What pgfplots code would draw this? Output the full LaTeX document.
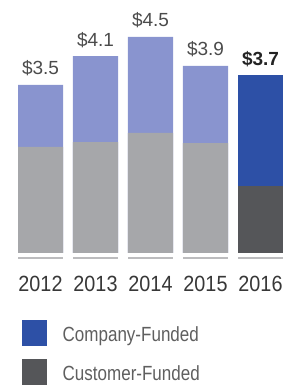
\documentclass[border=0pt]{standalone}
\usepackage{pgfplots}
\pgfplotsset{compat=1.18}
\usepackage{fontspec}
\setmainfont{Liberation Sans}
\newfontfamily\cond{Liberation Sans}[FakeStretch=0.9]
\newfontfamily\legf{Liberation Sans}[FakeStretch=0.83]
\definecolor{lblue}{RGB}{137,148,207}
\definecolor{lgray}{RGB}{166,167,170}
\definecolor{dblue}{RGB}{45,80,166}
\definecolor{dgray}{RGB}{85,86,89}
\definecolor{segc}{RGB}{188,188,190}
\definecolor{valtxt}{RGB}{75,75,75}
\definecolor{boldtxt}{RGB}{35,35,35}
\definecolor{yeartxt}{RGB}{55,55,55}
\definecolor{legtxt}{RGB}{95,95,95}
\begin{document}
\begin{tikzpicture}
\begin{axis}[
  at={(13pt,132pt)}, anchor=south west,
  scale only axis, width=275pt, height=240pt,
  xmin=-0.5, xmax=4.5, ymin=0, ymax=5,
  axis line style={draw=none}, tick style={draw=none},
  ytick=\empty,
  xtick={0,1,2,3,4}, xticklabels={2012,2013,2014,2015,2016},
  xticklabel style={anchor=base, yshift=-34pt, inner sep=0pt,
    font=\cond\fontsize{22}{22}\selectfont, text=yeartxt},
  clip=false,
  ybar, bar width=45pt, bar shift=0pt,
  legend style={at={(axis description cs:0.0327,-0.2792)}, anchor=north west,
    draw=none, fill=none, inner sep=0pt, row sep=13pt,
    nodes={inner sep=0pt},
    font=\legf\fontsize{20.5}{20.5}\selectfont, text=legtxt,
    cells={anchor=west},
    /tikz/every odd column/.append style={column sep=15.5pt},
    /tikz/every even column/.append style={yshift=8pt}},
  legend image code/.code={\fill[#1] (0pt,-3pt) rectangle (25pt,23pt);},
]
% company-funded (drawn as totals), 2012-2015
\addplot[fill=lblue, draw=none, forget plot,
  nodes near coords, point meta=explicit symbolic,
  every node near coord/.append style={anchor=base, yshift=10pt, inner sep=0pt,
    font=\fontsize{19}{19}\selectfont, text=valtxt}]
  coordinates {(0,3.5)[\$3.5] (1,4.1)[\$4.1] (2,4.5)[\$4.5] (3,3.9)[\$3.9]};
% company-funded 2016
\addplot[fill=dblue, draw=none,
  nodes near coords, point meta=explicit symbolic,
  every node near coord/.append style={anchor=base, yshift=10pt, inner sep=0pt,
    font=\bfseries\fontsize{19}{19}\selectfont, text=boldtxt}]
  coordinates {(4,3.7)[\$3.7]};
\addlegendentry{Company-Funded}
% customer-funded 2012-2015
\addplot[fill=lgray, draw=none, forget plot]
  coordinates {(0,2.21) (1,2.31) (2,2.50) (3,2.29)};
% customer-funded 2016
\addplot[fill=dgray, draw=none]
  coordinates {(4,1.40)};
\addlegendentry{Customer-Funded}
% baseline segments
\addplot[sharp plot, no marks, draw=segc, line width=2pt, forget plot,
  unbounded coords=jump] table {
x y
-0.409 -0.1
0.409 -0.1
nan nan
0.591 -0.1
1.409 -0.1
nan nan
1.591 -0.1
2.409 -0.1
nan nan
2.591 -0.1
3.409 -0.1
nan nan
3.591 -0.1
4.409 -0.1
};
\end{axis}
\pgfresetboundingbox
\useasboundingbox (0,0) rectangle (299pt,385pt);
\end{tikzpicture}
\end{document}
